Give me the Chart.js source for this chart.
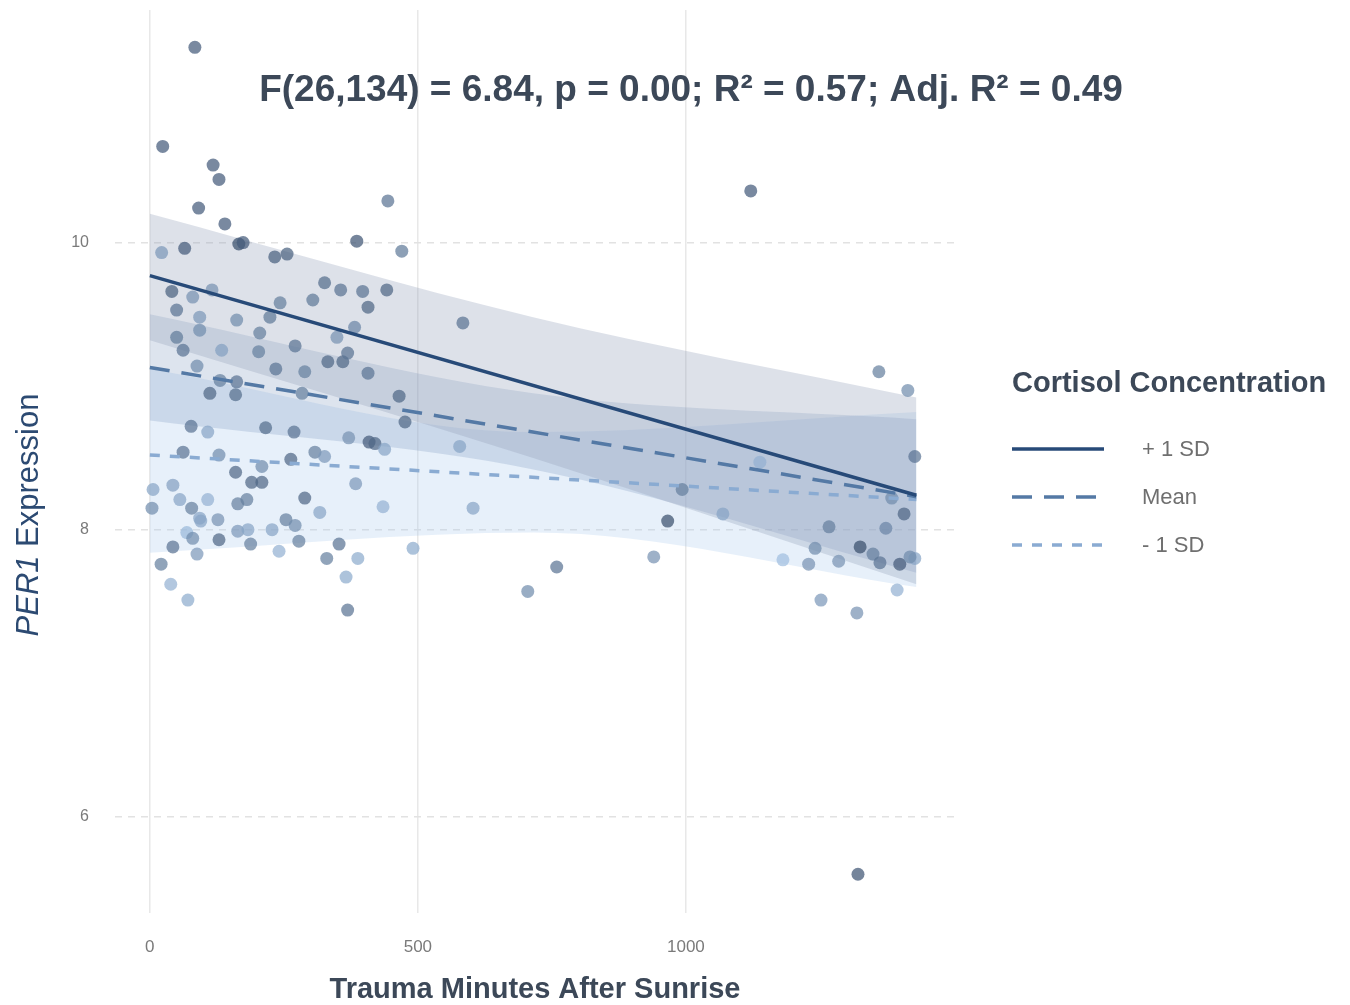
<!DOCTYPE html>
<html>
<head>
<meta charset="utf-8">
<script src="https://cdn.jsdelivr.net/npm/chart.js@4.4.1/dist/chart.umd.min.js"></script>
<style>
  html, body { margin: 0; padding: 0; background: #fff; }
  #wrap { width: 1350px; height: 1005px; }
</style>
</head>
<body>
<div id="wrap"><canvas id="per1Chart" width="1350" height="1005"></canvas></div>
<script>
const xTicks = [0, 500, 1000];
const yTicks = [6, 8, 10];

// observed points: trauma minutes, PER1 expression, cortisol shade (0 = low, 1 = high)
const traumaMinutes = [
  84, 24, 118, 129, 91, 140, 166, 174, 386, 444, 470, 1121, 22, 65, 233, 256,
  326, 356, 397, 407, 442, 304, 243, 224, 205, 162, 93, 93, 50, 41, 80, 116,
  50, 584, 382, 349, 271, 62, 134, 203, 332, 360, 369, 407, 289, 235, 88, 131,
  162, 112, 160, 465, 476, 77, 108, 216, 269, 371, 409, 420, 438, 578, 62, 129,
  209, 263, 308, 326, 160, 190, 209, 384, 289, 6, 43, 56, 78, 4, 108, 164,
  181, 93, 127, 254, 271, 317, 435, 603, 69, 80, 129, 164, 183, 188, 241, 278,
  353, 43, 88, 21, 330, 388, 491, 39, 366, 71, 369, 759, 705, 940, 966, 1069,
  1138, 1181, 1241, 1229, 1267, 1285, 1325, 1349, 1362, 1373, 1399, 1407, 1427, 1414, 1360, 1427,
  1394, 1418, 1252, 1319, 1321, 993, 95, 228, 284, 1384
];
const per1 = [
  11.36, 10.67, 10.54, 10.44, 10.24, 10.13, 9.99, 10.00, 10.01, 10.29, 9.94, 10.36, 9.93, 9.96, 9.90, 9.92,
  9.72, 9.67, 9.66, 9.55, 9.67, 9.60, 9.58, 9.48, 9.37, 9.46, 9.48, 9.39, 9.53, 9.66, 9.62, 9.67,
  9.34, 9.44, 9.41, 9.34, 9.28, 9.25, 9.25, 9.24, 9.17, 9.17, 9.23, 9.09, 9.10, 9.12, 9.14, 9.04,
  9.03, 8.95, 8.94, 8.93, 8.75, 8.72, 8.68, 8.71, 8.68, 8.64, 8.61, 8.60, 8.56, 8.58, 8.54, 8.52,
  8.44, 8.49, 8.54, 8.51, 8.40, 8.33, 8.33, 8.32, 8.22, 8.28, 8.31, 8.21, 8.15, 8.15, 8.21, 8.18,
  8.21, 8.08, 8.07, 8.07, 8.03, 8.12, 8.16, 8.15, 7.98, 7.94, 7.93, 7.99, 8.00, 7.90, 7.85, 7.92,
  7.90, 7.88, 7.83, 7.76, 7.80, 7.80, 7.87, 7.62, 7.67, 7.51, 7.44, 7.74, 7.57, 7.81, 8.06, 8.11,
  8.47, 7.79, 7.87, 7.76, 8.02, 7.78, 7.88, 7.83, 7.77, 8.01, 7.76, 8.11, 8.51, 8.97, 9.10, 7.80,
  7.58, 7.81, 7.51, 7.42, 5.60, 8.28, 8.06, 8.00, 8.95, 8.22
];
const cortisolShade = [
  0.9, 0.9, 0.9, 0.9, 0.9, 0.9, 1.0, 0.9, 0.95, 0.7, 0.65, 0.9, 0.4, 0.9, 0.85, 0.85,
  0.75, 0.7, 0.7, 0.8, 0.8, 0.65, 0.6, 0.65, 0.6, 0.5, 0.4, 0.5, 0.7, 0.85, 0.45, 0.45,
  0.65, 0.7, 0.55, 0.45, 0.7, 0.7, 0.35, 0.6, 0.8, 0.8, 0.7, 0.7, 0.6, 0.7, 0.5, 0.6,
  0.7, 0.8, 0.75, 0.8, 0.8, 0.7, 0.3, 0.75, 0.7, 0.45, 0.9, 0.8, 0.3, 0.3, 0.7, 0.5,
  0.5, 0.8, 0.6, 0.4, 0.8, 0.8, 0.8, 0.4, 0.8, 0.3, 0.35, 0.3, 0.6, 0.5, 0.2, 0.6,
  0.6, 0.3, 0.45, 0.6, 0.5, 0.3, 0.2, 0.3, 0.15, 0.5, 0.8, 0.4, 0.3, 0.6, 0.2, 0.6,
  0.7, 0.7, 0.4, 0.6, 0.6, 0.25, 0.25, 0.2, 0.25, 0.25, 0.7, 0.7, 0.5, 0.45, 1.0, 0.3,
  0.2, 0.1, 0.5, 0.45, 0.6, 0.45, 1.0, 0.6, 0.7, 0.55, 0.9, 0.8, 0.7, 0.5, 0.6, 0.3,
  0.2, 0.5, 0.4, 0.45, 0.95, 0.6, 0.3, 0.3, 0.6, 0.5
];

// fitted simple slopes
const lineX = [0, 1430];
const plusSD = [9.77, 8.24];
const meanFit = [9.13, 8.23];
const minusSD = [8.52, 8.21];

// confidence ribbons
const bandX = [0, 715, 1430];
const plusUpper = [10.20, 9.48, 8.92];
const plusLower = [9.32, 8.50, 7.62];
const meanUpper = [9.50, 8.95, 8.77];
const meanLower = [8.76, 8.42, 7.70];
const minusUpper = [9.12, 8.68, 8.82];
const minusLower = [7.84, 7.98, 7.60];

const legendLabels = ["+ 1 SD", "Mean", "- 1 SD"];
const titleText = "F(26,134) = 6.84, p = 0.00; R² = 0.57; Adj. R² = 0.49";

function pts(xs, ys) {
  return xs.map((x, i) => ({ x: x, y: ys[i] }));
}

function shadeColor(s) {
  const lo = [170, 202, 236];
  const hi = [58, 80, 110];
  const c = lo.map((v, i) => Math.round(v + (hi[i] - v) * s));
  return `rgba(${c[0]}, ${c[1]}, ${c[2]}, 0.72)`;
}

const lineStyles = [
  { color: "#274a78", dash: [] },
  { color: "#5479a5", dash: [20, 12] },
  { color: "#8aabd2", dash: [10, 10] },
];

function band(upper, lower, fillColor) {
  return [
    {
      type: "line", data: pts(bandX, upper), borderWidth: 0, pointRadius: 0,
      fill: false, cubicInterpolationMode: "monotone", order: 3,
    },
    {
      type: "line", data: pts(bandX, lower), borderWidth: 0, pointRadius: 0,
      fill: "-1", backgroundColor: fillColor, cubicInterpolationMode: "monotone", order: 3,
    },
  ];
}

function fitLine(ys, style) {
  return {
    type: "line", data: pts(lineX, ys), borderColor: style.color, borderWidth: 3.5,
    borderDash: style.dash, pointRadius: 0, fill: false, order: 0,
  };
}

const FONT = "'Liberation Sans', Arial, sans-serif";

const textPlugin = {
  id: "textPlugin",
  afterDraw(chart) {
    const ctx = chart.ctx;
    const area = chart.chartArea;
    ctx.save();

    // plot title inside the panel
    ctx.fillStyle = "#3c4858";
    ctx.font = "bold 37px " + FONT;
    ctx.textAlign = "center";
    ctx.textBaseline = "middle";
    ctx.fillText(titleText, 691, 91);

    // x axis title
    ctx.font = "bold 29px " + FONT;
    ctx.fillText("Trauma Minutes After Sunrise", (area.left + area.right) / 2, 990);

    // y axis title with italic gene name
    ctx.translate(29, 515);
    ctx.rotate(-Math.PI / 2);
    ctx.fillStyle = "#2c4a72";
    ctx.textAlign = "left";
    const italic = "italic 31px " + FONT;
    const normal = "31px " + FONT;
    ctx.font = italic;
    const w1 = ctx.measureText("PER1").width;
    ctx.font = normal;
    const w2 = ctx.measureText(" Expression").width;
    const start = -(w1 + w2) / 2;
    ctx.font = italic;
    ctx.fillText("PER1", start, 0);
    ctx.font = normal;
    ctx.fillText(" Expression", start + w1, 0);
    ctx.restore();

    // legend
    ctx.save();
    ctx.fillStyle = "#3c4858";
    ctx.font = "bold 29px " + FONT;
    ctx.textAlign = "left";
    ctx.textBaseline = "middle";
    ctx.fillText("Cortisol Concentration", 1012, 384);
    legendLabels.forEach((label, i) => {
      const y = 449 + i * 48;
      ctx.beginPath();
      ctx.strokeStyle = lineStyles[i].color;
      ctx.lineWidth = 3.5;
      ctx.setLineDash(lineStyles[i].dash);
      ctx.moveTo(1012, y);
      ctx.lineTo(1104, y);
      ctx.stroke();
      ctx.setLineDash([]);
      ctx.fillStyle = "#6f6f6f";
      ctx.font = "22px " + FONT;
      ctx.fillText(label, 1142, y + 1);
    });
    ctx.restore();
  },
};

const ctx = document.getElementById("per1Chart").getContext("2d");
new Chart(ctx, {
  type: "scatter",
  data: {
    datasets: [
      ...band(plusUpper, plusLower, "rgba(150, 162, 186, 0.32)"),
      ...band(meanUpper, meanLower, "rgba(112, 142, 186, 0.24)"),
      ...band(minusUpper, minusLower, "rgba(168, 200, 238, 0.28)"),
      {
        type: "scatter",
        data: pts(traumaMinutes, per1),
        backgroundColor: cortisolShade.map(shadeColor),
        borderWidth: 0,
        pointRadius: 6.5,
        order: 1,
      },
      fitLine(plusSD, lineStyles[0]),
      fitLine(meanFit, lineStyles[1]),
      fitLine(minusSD, lineStyles[2]),
    ],
  },
  options: {
    responsive: false,
    animation: false,
    layout: { padding: { top: 10, right: 395, left: 0, bottom: 0 } },
    plugins: {
      legend: { display: false },
      tooltip: { enabled: false },
    },
    scales: {
      x: {
        type: "linear",
        min: -65,
        max: 1502,
        afterBuildTicks: (scale) => { scale.ticks = xTicks.map((v) => ({ value: v })); },
        afterFit: (scale) => {
          scale.height = 92;
          scale.paddingLeft = 0;
          scale.paddingRight = 0;
        },
        grid: { color: "#e8e8e8", lineWidth: 1.5, drawTicks: false },
        border: { display: false },
        ticks: {
          color: "#7a7a7a",
          font: { size: 17, family: FONT },
          padding: 24,
          maxRotation: 0,
          callback: (v) => String(v),
        },
      },
      y: {
        type: "linear",
        min: 5.33,
        max: 11.62,
        afterBuildTicks: (scale) => { scale.ticks = yTicks.map((v) => ({ value: v })); },
        afterFit: (scale) => {
          scale.width = 115;
          scale.paddingTop = 0;
          scale.paddingBottom = 0;
        },
        grid: { color: "#e2e2e2", lineWidth: 1.5, drawTicks: false },
        border: { display: false, dash: [7, 6] },
        ticks: {
          color: "#7a7a7a",
          font: { size: 16, family: FONT },
          padding: 26,
          callback: (v) => String(v),
        },
      },
    },
  },
  plugins: [textPlugin],
});
</script>
</body>
</html>
